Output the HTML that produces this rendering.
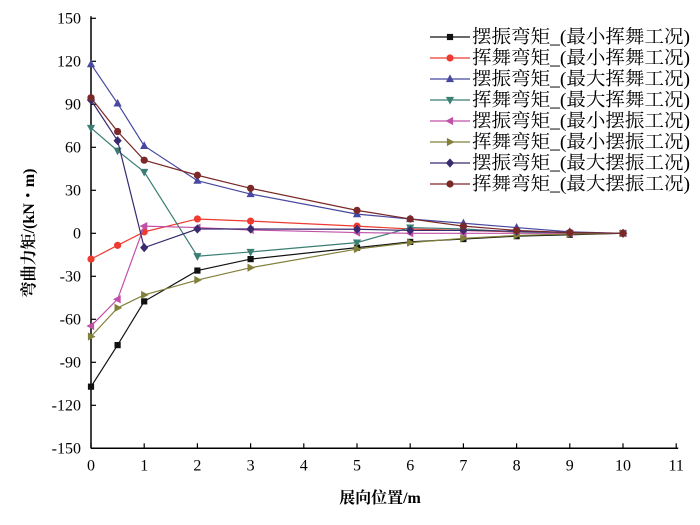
<!DOCTYPE html>
<html><head><meta charset="utf-8">
<style>
body{margin:0;background:#fff;}
svg text{font-family:"Liberation Serif","Noto Serif CJK SC",serif;}
</style></head>
<body>
<svg id="chart" width="700" height="520" viewBox="0 0 700 520" xmlns="http://www.w3.org/2000/svg"></svg>
<script>
const xCats = [0,0.5,1,2,3,5,6,7,8,9,10];
const xTicks = [0,1,2,3,4,5,6,7,8,9,10,11];
const yTicks = [-150,-120,-90,-60,-30,0,30,60,90,120,150];
const seriesNames = ["摆振弯矩_(最小挥舞工况)","挥舞弯矩_(最小挥舞工况)","摆振弯矩_(最大挥舞工况)","挥舞弯矩_(最大挥舞工况)","摆振弯矩_(最小摆振工况)","挥舞弯矩_(最小摆振工况)","摆振弯矩_(最大摆振工况)","挥舞弯矩_(最大摆振工况)"];
const s1 = [-107,-78,-47.5,-26,-18,-10,-6,-4,-2,-1,0];
const s2 = [-18,-8.4,1,10,8.5,5,3,2,1,0.5,0];
const s3 = [118,90.6,61,36.7,27.4,13.4,10,7,4,1,0];
const s4 = [73.5,57.6,42.8,-16,-13,-6.5,4,3,1,0,0];
const s5 = [-64.7,-46,5,4,2.3,0.5,0,0,0,0,0];
const s6 = [-72,-52,-43,-32.6,-24,-11,-6.5,-3.5,-1.5,-0.5,0];
const s7 = [93,64.6,-10,3,3,2.8,2,2,1.5,0.5,0];
const s8 = [94.6,71,51,40.5,31.4,16,10,5,2,0.5,0];
const seriesData=[s1,s2,s3,s4,s5,s6,s7,s8];
const colors=["#111111","#ee3a30","#4848a0","#3a7e74","#c050a8","#82803a","#3a2a6e","#7a2828"];
const markers=["square","circle","tri-up","tri-down","tri-left","tri-right","diamond","circle"];

const svg=document.getElementById('chart');
const NS="http://www.w3.org/2000/svg";
const X0=91, XS=53.2, Y0=233.3, YS=43/30;
const sx=v=>X0+v*XS, sy=v=>Y0-v*YS;
function mk(tag,attrs,parent){const e=document.createElementNS(NS,tag);for(const k in attrs)e.setAttribute(k,attrs[k]);(parent||svg).appendChild(e);return e;}

const ax=mk('g',{});


mk('line',{x1:sx(0),y1:sy(150)-2,x2:sx(0),y2:sy(-150),stroke:'#000','stroke-width':1.5},ax);
mk('line',{x1:sx(0),y1:sy(-150),x2:sx(11)+2,y2:sy(-150),stroke:'#000','stroke-width':1.5},ax);
xTicks.forEach(t=>{
  mk('line',{x1:sx(t),y1:sy(-150),x2:sx(t),y2:sy(-150)-5,stroke:'#000','stroke-width':1.2},ax);
  const tx=mk('text',{x:sx(t),y:sy(-150)+22,'text-anchor':'middle','font-size':16},ax);
  tx.textContent=t;
  
  
});
yTicks.forEach(t=>{
  mk('line',{x1:sx(0),y1:sy(t),x2:sx(0)+5,y2:sy(t),stroke:'#000','stroke-width':1.2},ax);
  const tx=mk('text',{x:sx(0)-10,y:sy(t)+5,'text-anchor':'end','font-size':16},ax);
  tx.textContent=t;
  
  
});
const xt=mk('text',{x:380,y:503,'text-anchor':'middle','font-size':16,'font-weight':'bold'});
xt.textContent='展向位置/m';


const yt=mk('text',{x:0,y:0,'text-anchor':'middle','font-size':16,'font-weight':'bold',transform:'translate(34,233) rotate(-90)'});
yt.textContent='弯曲力矩/(kN・m)';



function marker(type,x,y,c,g){
  const r=3.6;
  if(type==='square') return mk('rect',{x:x-r+0.5,y:y-r+0.5,width:2*r-1,height:2*r-1,fill:c},g);
  if(type==='circle') return mk('circle',{cx:x,cy:y,r:r,fill:c},g);
  let p;
  if(type==='tri-up') p=[[x,y-r-1],[x-r-0.5,y+r-0.5],[x+r+0.5,y+r-0.5]];
  if(type==='tri-down') p=[[x,y+r+1],[x-r-0.5,y-r+0.5],[x+r+0.5,y-r+0.5]];
  if(type==='tri-left') p=[[x-r-1,y],[x+r-0.5,y-r-0.5],[x+r-0.5,y+r+0.5]];
  if(type==='tri-right') p=[[x+r+1,y],[x-r+0.5,y-r-0.5],[x-r+0.5,y+r+0.5]];
  if(type==='diamond') p=[[x,y-r-1],[x+r+0.5,y],[x,y+r+1],[x-r-0.5,y]];
  return mk('polygon',{points:p.map(q=>q.join(',')).join(' '),fill:c},g);
}

seriesData.forEach((d,i)=>{
  const g=mk('g',{});
  
  
  const pts=d.map((v,j)=>sx(xCats[j])+','+sy(v)).join(' ');
  mk('polyline',{points:pts,fill:'none',stroke:colors[i],'stroke-width':1.2},g);
  d.forEach((v,j)=>{
    const m=marker(markers[i],sx(xCats[j]),sy(v),colors[i],g);
    
    
  });
});

const lg=mk('g',{});


seriesNames.forEach((n,i)=>{
  const y=37+i*21;
  const e=mk('g',{},lg);
  
  
  mk('line',{x1:430,y1:y,x2:470,y2:y,stroke:colors[i],'stroke-width':1.2},e);
  marker(markers[i],450,y,colors[i],e);
  const t=mk('text',{x:472,y:y+6,'font-size':18.5,textLength:218,lengthAdjust:'spacingAndGlyphs'},e);
  t.textContent=n;
});
</script>
</body></html>
